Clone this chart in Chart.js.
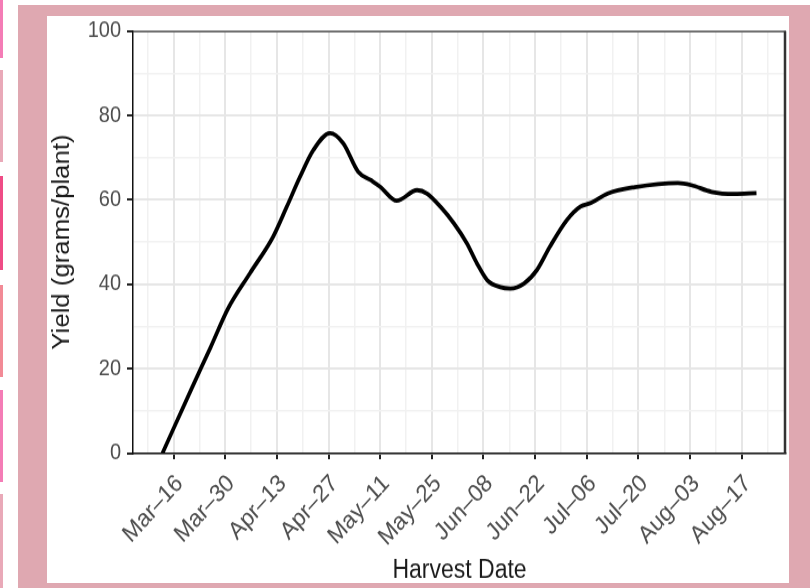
<!DOCTYPE html>
<html>
<head>
<meta charset="utf-8">
<script src="https://cdn.jsdelivr.net/npm/chart.js@4.4.1/dist/chart.umd.min.js"></script>
<style>
  html, body { margin:0; padding:0; background:#ffffff; width:810px; height:588px; overflow:hidden; }
  #frame { position:absolute; left:18px; top:5px; width:792px; height:583px; background:#dfa8b1; }
  #panel { position:absolute; left:47px; top:16px; width:742px; height:567px; background:#ffffff; }
  .stripe { position:absolute; left:0; width:3px; }
  #wrap { position:absolute; left:0; top:0; width:810px; height:525px; transform:scaleY(1.12); transform-origin:0 0; }
</style>
</head>
<body>
<div class="stripe" style="top:0;height:58px;background:#f47cb6"></div>
<div class="stripe" style="top:70px;height:92px;background:#e9a9b8"></div>
<div class="stripe" style="top:176px;height:94px;background:#ef4c86"></div>
<div class="stripe" style="top:285px;height:92px;background:#f28a96"></div>
<div class="stripe" style="top:390px;height:92px;background:#f47cb6"></div>
<div class="stripe" style="top:494px;height:94px;background:#e9a9b8"></div>
<div id="frame"></div>
<div id="panel"></div>
<div id="wrap"><canvas id="c" width="810" height="525"></canvas></div>
<script>
// Harvest day offsets (days after Mar-16) and yield values (grams/plant)
const harvestDays = [-3, 5, 10, 14.8, 20.7, 27, 30.7, 34.3, 37.9, 42.4, 46, 50, 53.4, 56, 60.5, 66, 68.7, 72.3, 76, 79.5, 82.2, 85, 88.6, 91.3, 95, 98.5, 102, 106.6, 110.3, 113.2, 117.7, 125, 136.7, 140.3, 145.8, 152, 158];
const yieldValues = [0, 15.5, 25, 34.3, 42.6, 51.3, 58.4, 65.5, 71.8, 75.8, 73.4, 66.7, 64.7, 63.1, 59.8, 62.3, 61.5, 58.4, 54.4, 49.7, 45, 41, 39.3, 39, 40.2, 43.4, 48.9, 55.2, 58.4, 59.3, 61.5, 63, 64, 63.5, 61.9, 61.4, 61.6];
// X tick labels, every 14 days starting Mar-16
const dateTickLabels = ["Mar–16","Mar–30","Apr–13","Apr–27","May–11","May–25","Jun–08","Jun–22","Jul–06","Jul–20","Aug–03","Aug–17"];
const yTickValues = [0, 20, 40, 60, 80, 100];

const points = harvestDays.map((d, i) => ({x: d, y: yieldValues[i]}));

const tickFont = {family: "'Liberation Sans', Arial, sans-serif", size: 20};
const xTickFont = {family: "'Liberation Sans', Arial, sans-serif", size: 22};
const titleFont = {family: "'Liberation Sans', Arial, sans-serif", size: 23};

const borderPlugin = {
  id: 'panelBorder',
  afterDraw(chart) {
    const {ctx, chartArea: a} = chart;
    ctx.save();
    ctx.strokeStyle = '#333333';
    ctx.lineWidth = 1.2;
    ctx.beginPath();
    ctx.moveTo(a.left, a.top + 0.5);
    ctx.lineTo(a.right, a.top + 0.5);
    ctx.stroke();
    ctx.lineWidth = 2.5;
    ctx.beginPath();
    ctx.moveTo(a.right - 1, a.top);
    ctx.lineTo(a.right - 1, a.bottom);
    ctx.stroke();
    ctx.restore();
  }
};

new Chart(document.getElementById('c'), {
  type: 'line',
  data: {
    datasets: [{
      data: points,
      borderColor: '#000000',
      borderWidth: 3.8,
      pointRadius: 0,
      fill: false,
      cubicInterpolationMode: 'monotone'
    }]
  },
  options: {
    responsive: false,
    animation: false,
    devicePixelRatio: 1,
    layout: {padding: {left: 0, top: 27.7, right: 24, bottom: 0}},
    plugins: {legend: {display: false}, tooltip: {enabled: false}},
    scales: {
      x: {
        type: 'linear',
        min: -11,
        max: 166,
        afterFit(scale) { scale.height = 120.5; },
        afterBuildTicks(scale) {
          const t = [];
          for (let v = -7; v <= 161; v += 7) t.push({value: v});
          scale.ticks = t;
        },
        ticks: {
          autoSkip: false,
          minRotation: 45,
          maxRotation: 45,
          padding: 9,
          labelOffset: 6,
          color: '#4d4d4d',
          font: xTickFont,
          callback(v) {
            if (v >= 0 && v % 14 === 0) return dateTickLabels[v / 14] || '';
            return '';
          }
        },
        grid: {
          color: (c) => (c.tick && c.tick.value % 14 === 0) ? '#e6e6e6' : '#f1f1f1',
          lineWidth: (c) => (c.tick && c.tick.value % 14 === 0) ? 2 : 1.5,
          tickLength: 5.4,
          tickColor: (c) => (c.tick && c.tick.value % 14 === 0) ? '#222222' : 'rgba(0,0,0,0)',
          tickWidth: 2
        },
        border: {display: true, color: '#111111', width: 1.5},
        title: {
          display: true,
          text: 'Harvest Date',
          color: '#1a1a1a',
          font: titleFont,
          padding: {top: 0, bottom: 2}
        }
      },
      y: {
        min: 0,
        max: 100,
        afterFit(scale) { scale.width = 133; },
        afterBuildTicks(scale) {
          const t = [];
          for (let v = 0; v <= 100; v += 10) t.push({value: v});
          scale.ticks = t;
        },
        ticks: {
          padding: 6,
          color: '#4d4d4d',
          font: tickFont,
          callback(v) { return yTickValues.includes(v) ? String(v) : ''; }
        },
        grid: {
          color: (c) => (c.tick && c.tick.value % 20 === 0) ? '#e6e6e6' : '#f1f1f1',
          lineWidth: (c) => (c.tick && c.tick.value % 20 === 0) ? 2 : 1.5,
          tickLength: 6,
          tickColor: (c) => (c.tick && c.tick.value % 20 === 0) ? '#222222' : 'rgba(0,0,0,0)',
          tickWidth: 2
        },
        border: {display: true, color: '#111111', width: 1.5},
        title: {
          display: true,
          text: 'Yield (grams/plant)',
          color: '#1a1a1a',
          font: titleFont,
          padding: {top: 49, bottom: 0}
        }
      }
    }
  },
  plugins: [borderPlugin]
});
</script>
</body>
</html>
